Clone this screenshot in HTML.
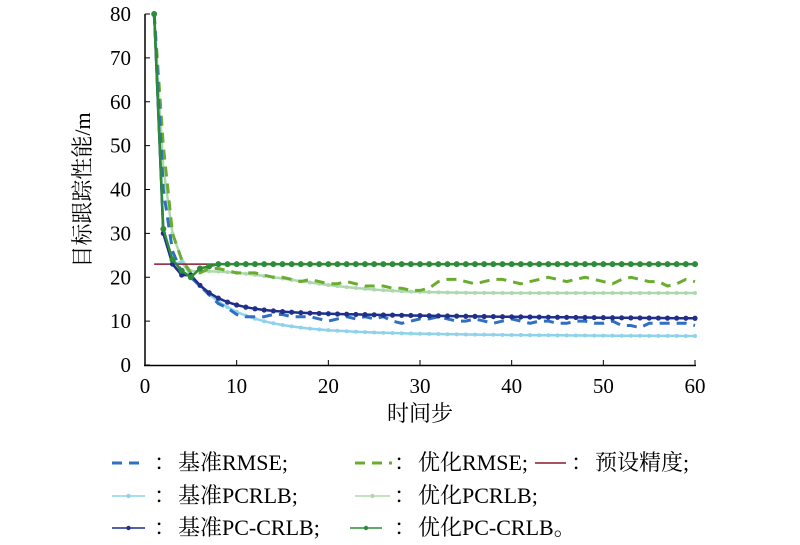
<!DOCTYPE html>
<html><head><meta charset="utf-8"><style>
body{margin:0;background:#fff;width:800px;height:545px;overflow:hidden;font-family:"Liberation Serif","Noto Serif CJK SC",serif}
svg{position:absolute;left:0;top:0}
</style></head><body>
<svg id="s" width="800" height="545" xmlns="http://www.w3.org/2000/svg"></svg>
<script>
const s=document.getElementById('s');
const X=t=>145+t*9.1667, Y=v=>365-v*4.3875;
let h='';
function path(vals,col,w,dash,mk,r){
  let d=vals.map((v,i)=>(i?'L':'M')+X(i+1).toFixed(1)+' '+Y(v).toFixed(1)).join('');
  h+=`<path d="${d}" fill="none" stroke="${col}" stroke-width="${w}" ${dash?'stroke-dasharray="'+dash+'"':''}/>`;
  if(mk)vals.forEach((v,i)=>{h+=`<circle cx="${X(i+1)}" cy="${Y(v)}" r="${r}" fill="${col}"/>`});
}
function gen(f){let a=[];for(let t=1;t<=60;t++)a.push(f(t));return a;}
const bp=gen(t=>t==1?80:t==2?30:t==3?23:6.5+14.5*Math.exp(-(t-4)/4.5)+2.5*Math.exp(-(t-4)/18));
const op=gen(t=>t==1?80:t==2?45:t==3?30:t==4?24:16.4+5*Math.exp(-Math.pow(Math.max(t-6,0)/14,2)));
const bc=gen(t=>t==1?80:t==2?30:t==3?23:t==4?20.5:10.3+8*Math.exp(-(t-5)/3)+2.2*Math.exp(-(t-5)/30));
const oc=gen(t=>[80,31,24,21.5,20,22,22.5][t-1]??23);
const orm=gen(t=>{if(t<=6)return [80,50,30,24,21,21][t-1];const n=[22,22,21.5,21,21,21,20.5,20,20,19.5,19,19.5,19,18.5,18.5,19,18.5,18,18,18,17.5,17.5,17,17,17.5,19,19.5,19.5,19,18.5,19,19.5,19.5,19,18.5,19,19.5,20,19.5,19,19.5,20,19.5,19,18.5,19.5,20,19.5,19,19,18,18.5,19.5,19,18];return n[t-7]??19;});
const brm=gen(t=>{if(t<=5)return [80,40,26,21,20][t-1];const base=[18,16,14,13,11.5,11,11,11,11.5,11.5,11,11,11,10.5,10,10.5,11,10.5,11,10.5,11,10,9.5,10,10.5,10.5,11,10.5,10,10,10.5,10,9.5,10,10.5,10,9.5,10,10,9.5,9.5,10,10,9.5,9.5,10,9,9,8.5,9.5,9.5,9.5,9.5,9.5,9];return base[t-6]??9.3;});
h+=`<line x1="145" y1="14" x2="145" y2="366" stroke="#000" stroke-width="1.5"/><line x1="144" y1="365.5" x2="696" y2="365.5" stroke="#000" stroke-width="1.5"/>`;
for(let v=0;v<=80;v+=10){h+=`<line x1="145" x2="150" y1="${Y(v)}" y2="${Y(v)}" stroke="#000"/><text x="131" y="${Y(v)+7}" font-size="21" text-anchor="end">${v}</text>`;}
for(let t=0;t<=60;t+=10){h+=`<line x1="${X(t)}" x2="${X(t)}" y1="365" y2="360" stroke="#000"/><text x="${X(t)}" y="393" font-size="21" text-anchor="middle">${t}</text>`;}
h+=`<text x="420" y="421" font-size="22" text-anchor="middle">时间步</text>`;
h+=`<text transform="translate(90,190) rotate(-90)" font-size="22" text-anchor="middle">目标跟踪性能/m</text>`;
path(op,'#aed9ae',2.5,null,true,2);
path(bp,'#8fd3ea',2.5,null,true,2);
path(orm,'#6aad2e',3,'10,7');
path(brm,'#2f6fc4',3,'10,7');
h+=`<line x1="${X(1)}" x2="${X(60)}" y1="${Y(23)}" y2="${Y(23)}" stroke="#8b1a2e" stroke-width="1.5"/>`;
path(bc,'#1f2f8a',2.5,null,true,2.6);
path(oc,'#2e8b3a',2.5,null,true,3);
const L=(x,x2,tx,y,col,type,txt)=>{
 if(type=='d')h+=`<line x1="${x}" x2="${x2}" y1="${y}" y2="${y}" stroke="${col}" stroke-width="3" stroke-dasharray="10,7"/>`;
 else{h+=`<line x1="${x}" x2="${x2}" y1="${y}" y2="${y}" stroke="${col}" stroke-width="1.5"/>`;if(type=='m')h+=`<circle cx="${(x+x2)/2}" cy="${y}" r="2.2" fill="${col}"/>`;}
 h+=`<text x="${tx-24}" y="${y+7}" font-size="22">：</text><text x="${tx}" y="${y+7}" font-size="22">${txt}</text>`;};
L(112,145,178,463,'#2f6fc4','d','基准RMSE;');L(355,392,418,463,'#6aad2e','d','优化RMSE;');L(535,566,595,463,'#8b1a2e','l','预设精度;');
L(112,145,178,496,'#8fd3ea','m','基准PCRLB;');L(355,390,418,496,'#aed9ae','m','优化PCRLB;');
L(112,145,178,528,'#1f2f8a','m','基准PC-CRLB;');L(350,382,418,528,'#2e8b3a','m','优化PC-CRLB。');
s.innerHTML=h;
</script>
</body></html>
